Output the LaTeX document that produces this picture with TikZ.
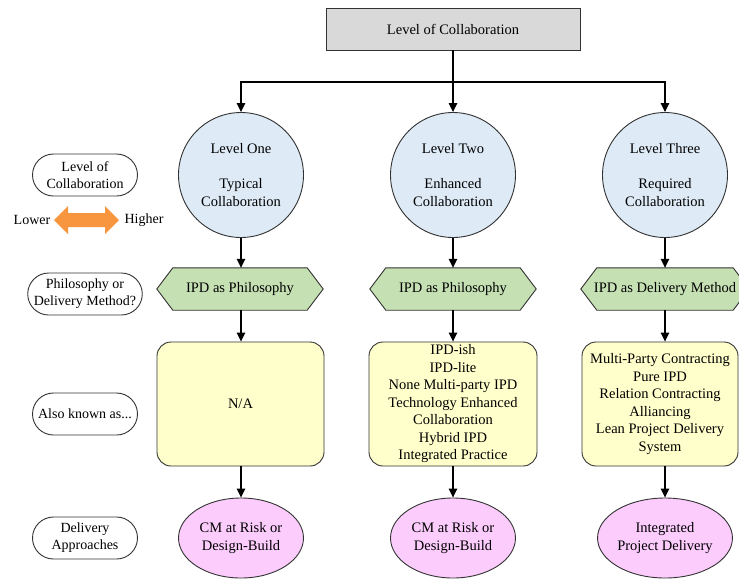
\documentclass[tikz,border=0pt]{standalone}
\usepackage{fontspec}
\setmainfont{Liberation Serif}
\newfontfamily\diagfont{Liberation Serif}
\usetikzlibrary{arrows.meta,backgrounds,shapes.geometric,shapes.misc}
\definecolor{topgray}{HTML}{D9D9D9}
\definecolor{circblue}{HTML}{DEEAF6}
\definecolor{hexgreen}{HTML}{C5E0B3}
\definecolor{yellowfill}{HTML}{FFFFCC}
\definecolor{pinkfill}{HTML}{FCCCFC}
\definecolor{orangefill}{HTML}{F8963F}
\definecolor{edgegray}{HTML}{333333}
\begin{document}
\begin{tikzpicture}[x=1pt,y=-1pt,
  base/.style={font=\diagfont\fontsize{14.5}{17.5}\selectfont, align=center, text=black, inner sep=0pt},
  topbox/.style={base, draw=edgegray, fill=topgray, minimum width=254pt, minimum height=42pt, line width=0.9pt},
  lvl/.style={base, circle, draw=edgegray, fill=circblue, minimum size=125pt, line width=0.9pt},
  hexnode/.style={base, minimum width=166pt, minimum height=42pt},
  hexshape/.style={draw=edgegray, fill=hexgreen, line width=0.9pt},
  akabox/.style={base, draw=edgegray, fill=yellowfill, rounded corners=14pt, minimum height=124pt, line width=0.9pt},
  deliv/.style={base, ellipse, draw=edgegray, fill=pinkfill, minimum width=125pt, minimum height=80pt, line width=0.9pt},
  pill/.style={base, font=\diagfont\fontsize{14}{17}\selectfont, rounded rectangle, draw=edgegray, minimum width=105pt, minimum height=42pt, line width=0.9pt},
  plain/.style={base, font=\diagfont\fontsize{14}{17}\selectfont},
  conn/.style={line width=1.1pt, -{Triangle[length=9pt,width=8.5pt]}},
  wire/.style={line width=1.1pt}
]
\useasboundingbox (0,0) rectangle (739,579);

% top
\node[topbox] (top) at (453,29) {Level of Collaboration};
\coordinate (j) at (453,82);

% circles
\node[lvl] (c1) at (241,175) {Level One\\[17.5pt]Typical\\Collaboration};
\node[lvl] (c2) at (453,175) {Level Two\\[17.5pt]Enhanced\\Collaboration};
\node[lvl] (c3) at (665,175) {Level Three\\[17.5pt]Required\\Collaboration};

% hexagons
\node[hexnode] (h1) at (240,289) {IPD as Philosophy};
\node[hexnode] (h2) at (453,289) {IPD as Philosophy};
\node[hexnode, minimum width=168pt] (h3) at (665,289) {IPD as Delivery Method};
\begin{scope}[on background layer]
\foreach \h in {h1,h2,h3}{
  \path[hexshape] (\h.west) -- ([xshift=16pt]\h.north west) -- ([xshift=-16pt]\h.north east)
    -- (\h.east) -- ([xshift=-16pt]\h.south east) -- ([xshift=16pt]\h.south west) -- cycle;
}
\end{scope}

% also-known-as boxes
\node[akabox, minimum width=167pt] (b1) at (240.5,404) {N/A};
\node[akabox, minimum width=168pt] (b2) at (453,404) {IPD-ish\\IPD-lite\\None Multi-party IPD\\Technology Enhanced\\Collaboration\\Hybrid IPD\\Integrated Practice};
\node[akabox, minimum width=156pt] (b3) at (660,404) {Multi-Party Contracting\\Pure IPD\\Relation Contracting\\Alliancing\\Lean Project Delivery\\System};

% delivery ellipses
\node[deliv] (e1) at (241,538) {CM at Risk or\\Design-Build};
\node[deliv] (e2) at (453,538) {CM at Risk or\\Design-Build};
\node[deliv] (e3) at (665,538) {Integrated\\Project Delivery};

% left legend
\node[pill] (p1) at (85,175) {Level of\\Collaboration};
\node[pill] (p2) at (85,294) {Philosophy or\\Delivery Method?};
\node[pill] (p3) at (85,414) {Also known as...};
\node[pill] (p4) at (85,538) {Delivery\\Approaches};
\node[plain] (lower) at (32,220) {Lower};
\node[plain] (higher) at (144,220) {Higher};
\fill[orangefill] (54,220) -- (68,206) -- (68,213) -- (105,213) -- (105,206) -- (119,220)
  -- (105,234) -- (105,227) -- (68,227) -- (68,234) -- cycle;

% connectors
\draw[wire] (top.south) -- (j);
\draw[conn] (j) -- (c2.north);
\draw[conn] (j) -| (c1.north);
\draw[conn] (j) -| (c3.north);
\draw[conn] (c1.south) -- (h1.north -| c1.south);
\draw[conn] (c2.south) -- (h2.north);
\draw[conn] (c3.south) -- (h3.north);
\draw[conn] (h1.south -| c1.south) -- (b1.north -| c1.south);
\draw[conn] (h2.south) -- (b2.north);
\draw[conn] (h3.south) -- (h3.south |- b3.north);
\draw[conn] (b1.south -| e1.north) -- (e1.north);
\draw[conn] (b2.south) -- (e2.north);
\draw[conn] (b3.south -| e3.north) -- (e3.north);
\end{tikzpicture}
\end{document}
